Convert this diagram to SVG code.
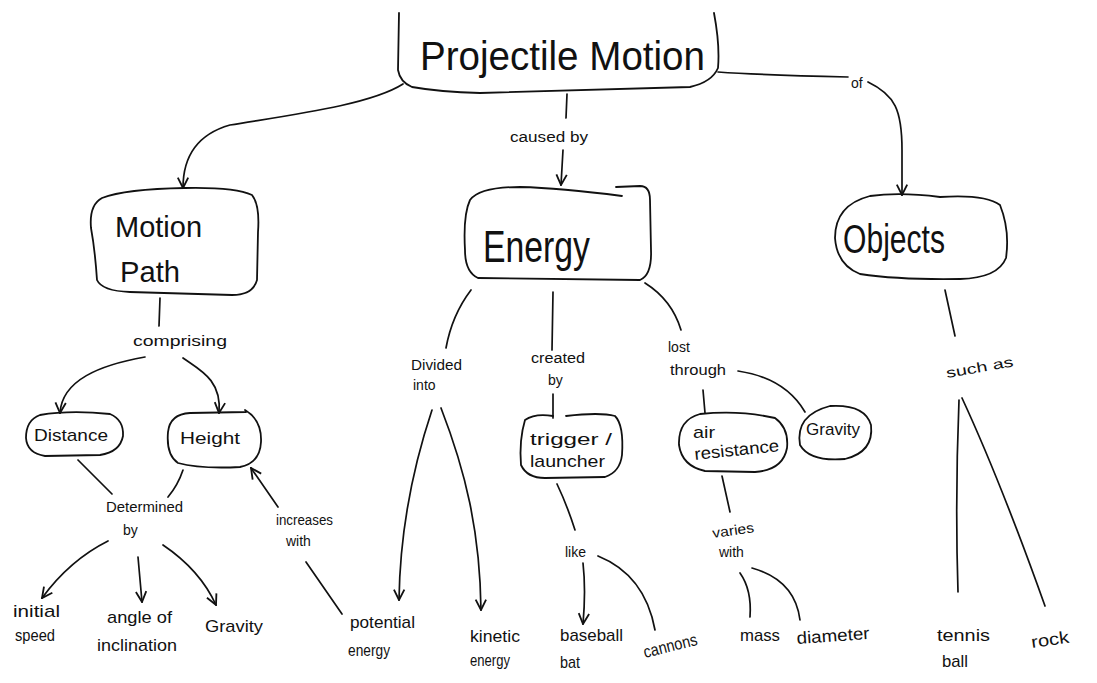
<svg xmlns="http://www.w3.org/2000/svg" width="1097" height="683" viewBox="0 0 1097 683">
  <style>
    .shape { fill: none; stroke: #111; stroke-width: 1.8; stroke-linecap: round; stroke-linejoin: round; }
    .link { fill: none; stroke: #111; stroke-width: 1.7; stroke-linecap: round; }
    .big { font-family: "Liberation Sans", Arial, sans-serif; fill: #111; }
    .lbl { font-family: "Liberation Sans", Arial, sans-serif; font-size: 14px; fill: #111; }
    .leaf { font-family: "Liberation Sans", Arial, sans-serif; font-size: 17px; fill: #111; }
  </style>
  <defs>
    <marker id="arr" viewBox="0 0 10 10" refX="9" refY="5" markerWidth="13" markerHeight="13" markerUnits="userSpaceOnUse" orient="auto">
      <path d="M1,1 L9,5 L1,9" fill="none" stroke="#111" stroke-width="1.4"/>
    </marker>
  </defs>
  <rect width="1097" height="683" fill="#fff"/>

  <!-- concept boxes -->
  <g id="projectile-motion">
    <path class="shape" d="M 399 13 L 398 70 Q 400 82 412 87 Q 440 92 480 93 L 690 87 Q 712 82 718 68 Q 720 45 714 13"/>
    <text class="big" x="420" y="70" font-size="40" textLength="285" lengthAdjust="spacingAndGlyphs">Projectile Motion</text>
  </g>

  <g id="motion-path">
    <path class="shape" d="M 102 198 Q 125 189 185 188 Q 235 187 252 195 Q 260 205 258 232 L 257 280 Q 253 295 232 295 L 130 292 Q 102 291 97 280 Q 95 250 91 228 Q 89 205 102 198 Z"/>
    <text class="big" x="115" y="237" font-size="30" textLength="87" lengthAdjust="spacingAndGlyphs">Motion</text>
    <text class="big" x="120" y="282" font-size="30" textLength="60" lengthAdjust="spacingAndGlyphs">Path</text>
  </g>

  <g id="energy">
    <path class="shape" d="M 622 196 Q 560 188 520 187 Q 480 187 470 200 Q 463 215 465 250 Q 465 272 478 278 L 640 280 Q 652 275 651 250 L 650 200 Q 650 186 640 186 L 616 187"/>
    <text class="big" x="483" y="262" font-size="44" textLength="107" lengthAdjust="spacingAndGlyphs">Energy</text>
  </g>

  <g id="objects">
    <path class="shape" d="M 870 196 Q 900 192 940 197 Q 985 194 1000 205 Q 1010 230 1006 258 Q 998 278 960 279 Q 900 280 860 274 Q 837 265 835 238 Q 835 205 870 196 Z"/>
    <text class="big" x="843" y="253" font-size="40" textLength="102" lengthAdjust="spacingAndGlyphs">Objects</text>
  </g>

  <g id="distance">
    <path class="shape" d="M 40 415 Q 70 410 110 414 Q 124 420 123 436 Q 120 452 100 455 L 45 456 Q 27 453 26 438 Q 26 420 40 415 Z"/>
    <text class="leaf" x="34" y="441" font-size="18" textLength="74" lengthAdjust="spacingAndGlyphs">Distance</text>
  </g>

  <g id="height">
    <path class="shape" d="M 246 412 L 190 413 Q 170 414 168 432 Q 166 455 178 463 Q 200 469 240 467 Q 260 463 261 442 Q 262 420 245 410"/>
    <text class="leaf" x="180" y="444" font-size="20" textLength="60" lengthAdjust="spacingAndGlyphs">Height</text>
  </g>

  <g id="initial-speed">
    <text class="leaf" x="13" y="617" textLength="47" lengthAdjust="spacingAndGlyphs">initial</text>
    <text class="leaf" x="15" y="641" textLength="40" lengthAdjust="spacingAndGlyphs">speed</text>
  </g>

  <g id="angle-of-inclination">
    <text class="leaf" x="107" y="623" textLength="65" lengthAdjust="spacingAndGlyphs">angle of</text>
    <text class="leaf" x="97" y="651" textLength="80" lengthAdjust="spacingAndGlyphs">inclination</text>
  </g>

  <g id="gravity-motion">
    <text class="leaf" x="205" y="632" textLength="58" lengthAdjust="spacingAndGlyphs">Gravity</text>
  </g>

  <g id="potential-energy">
    <text class="leaf" x="350" y="628" textLength="65" lengthAdjust="spacingAndGlyphs">potential</text>
    <text class="leaf" x="348" y="656" font-size="15" textLength="42" lengthAdjust="spacingAndGlyphs">energy</text>
  </g>

  <g id="kinetic-energy">
    <text class="leaf" x="470" y="642" textLength="50" lengthAdjust="spacingAndGlyphs">kinetic</text>
    <text class="leaf" x="470" y="666" font-size="15" textLength="40" lengthAdjust="spacingAndGlyphs">energy</text>
  </g>

  <g id="trigger-launcher">
    <path class="shape" d="M 553 416 Q 535 413 525 420 Q 519 440 521 465 Q 527 478 545 478 L 605 477 Q 620 472 622 455 Q 624 425 615 416 Q 600 412 566 416"/>
    <text class="leaf" x="530" y="445" textLength="82" lengthAdjust="spacingAndGlyphs">trigger /</text>
    <text class="leaf" x="530" y="467" textLength="75" lengthAdjust="spacingAndGlyphs">launcher</text>
  </g>

  <g id="baseball-bat">
    <text class="leaf" x="560" y="641" font-size="15" textLength="63" lengthAdjust="spacingAndGlyphs">baseball</text>
    <text class="leaf" x="560" y="668" font-size="15" textLength="20" lengthAdjust="spacingAndGlyphs">bat</text>
  </g>

  <g id="cannons">
    <text class="leaf" x="645" y="658" font-size="15" textLength="55" lengthAdjust="spacingAndGlyphs" transform="rotate(-14 645 658)">cannons</text>
  </g>

  <g id="air-resistance">
    <path class="shape" d="M 700 414 Q 740 410 775 418 Q 789 428 787 448 Q 783 470 755 472 L 705 471 Q 682 466 679 445 Q 678 420 700 414 Z"/>
    <text class="leaf" x="693" y="438" textLength="22" lengthAdjust="spacingAndGlyphs">air</text>
    <text class="leaf" x="695" y="460" font-size="16" textLength="85" lengthAdjust="spacingAndGlyphs" transform="rotate(-6 695 460)">resistance</text>
  </g>

  <g id="gravity-loss">
    <path class="shape" d="M 830 406 Q 865 404 871 425 Q 874 452 845 459 Q 810 462 800 445 Q 795 415 830 406 Z"/>
    <text class="leaf" x="806" y="435" font-size="16" textLength="54" lengthAdjust="spacingAndGlyphs">Gravity</text>
  </g>

  <g id="mass">
    <text class="leaf" x="740" y="641" textLength="40" lengthAdjust="spacingAndGlyphs">mass</text>
  </g>

  <g id="diameter">
    <text class="leaf" x="797" y="644" textLength="73" lengthAdjust="spacingAndGlyphs" transform="rotate(-4 797 644)">diameter</text>
  </g>

  <g id="tennis-ball">
    <text class="leaf" x="937" y="641" textLength="53" lengthAdjust="spacingAndGlyphs">tennis</text>
    <text class="leaf" x="942" y="667" textLength="26" lengthAdjust="spacingAndGlyphs">ball</text>
  </g>

  <g id="rock">
    <text class="leaf" x="1032" y="648" textLength="38" lengthAdjust="spacingAndGlyphs" transform="rotate(-8 1032 648)">rock</text>
  </g>

  <!-- connectors and their linking phrases -->
  <g id="connectors">
    <path class="link" d="M 403 84 C 370 105 290 115 230 125 C 195 135 183 160 183 188" marker-end="url(#arr)"/>

    <path class="link" d="M 567 94 L 566 118"/>
    <text class="lbl" x="510" y="142" textLength="78" lengthAdjust="spacingAndGlyphs">caused by</text>
    <path class="link" d="M 563 150 L 561 185" marker-end="url(#arr)"/>

    <path class="link" d="M 718 72 Q 760 75 848 77"/>
    <text class="lbl" x="851" y="88" font-size="16">of</text>
    <path class="link" d="M 868 82 C 895 95 902 110 902 150 L 902 195" marker-end="url(#arr)"/>

    <path class="link" d="M 160 298 L 159 326"/>
    <text class="lbl" x="133" y="346" textLength="94" lengthAdjust="spacingAndGlyphs">comprising</text>
    <path class="link" d="M 145 357 C 100 365 62 380 60 413" marker-end="url(#arr)"/>
    <path class="link" d="M 183 358 C 200 370 222 380 219 413" marker-end="url(#arr)"/>

    <path class="link" d="M 78 460 L 112 494"/>
    <path class="link" d="M 183 470 Q 178 485 168 497"/>
    <text class="lbl" x="106" y="512" textLength="77" lengthAdjust="spacingAndGlyphs">Determined</text>
    <text class="lbl" x="123" y="535">by</text>
    <path class="link" d="M 108 541 Q 70 560 42 598" marker-end="url(#arr)"/>
    <path class="link" d="M 138 557 L 142 602" marker-end="url(#arr)"/>
    <path class="link" d="M 163 545 Q 200 570 216 605" marker-end="url(#arr)"/>

    <path class="link" d="M 278 507 L 251 468" marker-end="url(#arr)"/>
    <text class="lbl" x="276" y="525" textLength="57" lengthAdjust="spacingAndGlyphs">increases</text>
    <text class="lbl" x="286" y="546">with</text>
    <path class="link" d="M 306 562 L 342 614"/>

    <path class="link" d="M 471 290 Q 452 315 446 348"/>
    <text class="lbl" x="411" y="370" textLength="51" lengthAdjust="spacingAndGlyphs">Divided</text>
    <text class="lbl" x="413" y="390" font-size="12">into</text>
    <path class="link" d="M 432 410 C 412 470 400 530 399 600" marker-end="url(#arr)"/>
    <path class="link" d="M 441 408 C 465 470 480 530 481 610" marker-end="url(#arr)"/>

    <path class="link" d="M 553 292 L 552 350"/>
    <text class="lbl" x="531" y="363" textLength="54" lengthAdjust="spacingAndGlyphs">created</text>
    <text class="lbl" x="548" y="385">by</text>
    <path class="link" d="M 553 394 L 553 418"/>
    <path class="link" d="M 557 484 Q 567 505 575 530"/>
    <text class="lbl" x="565" y="557" font-size="15">like</text>
    <path class="link" d="M 583 563 Q 586 590 583 624" marker-end="url(#arr)"/>
    <path class="link" d="M 598 556 Q 645 575 655 630"/>

    <path class="link" d="M 645 283 Q 672 300 681 330"/>
    <text class="lbl" x="668" y="352" font-size="15">lost</text>
    <text class="lbl" x="670" y="375" textLength="56" lengthAdjust="spacingAndGlyphs">through</text>
    <path class="link" d="M 703 390 L 705 413"/>
    <path class="link" d="M 738 371 Q 785 378 805 412"/>
    <path class="link" d="M 722 476 L 730 512"/>
    <text class="lbl" x="713" y="538" textLength="42" lengthAdjust="spacingAndGlyphs" transform="rotate(-8 713 538)">varies</text>
    <text class="lbl" x="719" y="557">with</text>
    <path class="link" d="M 740 573 Q 752 590 750 617"/>
    <path class="link" d="M 752 568 Q 795 580 800 620"/>

    <path class="link" d="M 945 290 L 955 336"/>
    <text class="lbl" x="947" y="378" font-size="16" textLength="68" lengthAdjust="spacingAndGlyphs" transform="rotate(-10 947 378)">such as</text>
    <path class="link" d="M 959 400 Q 955 500 958 592"/>
    <path class="link" d="M 962 398 Q 1000 480 1045 606"/>
  </g>
</svg>
